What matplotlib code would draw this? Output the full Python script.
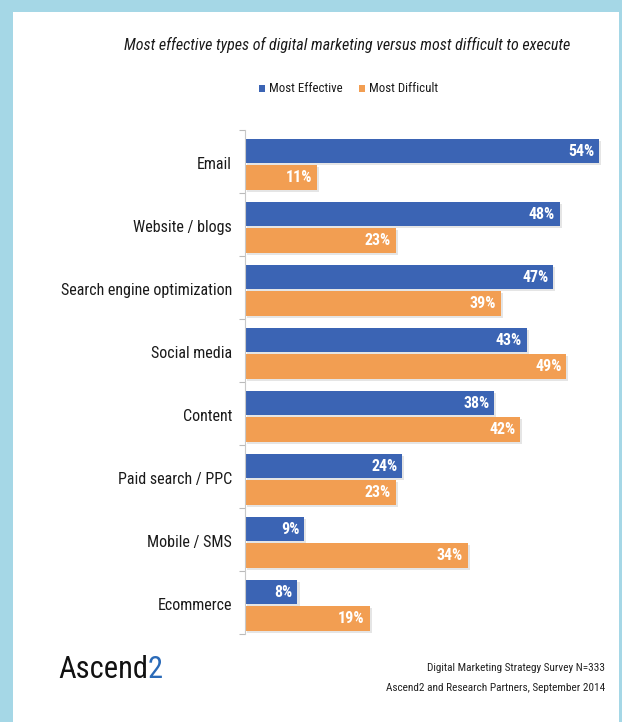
import matplotlib
matplotlib.use("Agg")
import matplotlib.pyplot as plt
import matplotlib.patheffects as pe
from matplotlib import font_manager
from matplotlib.patches import Rectangle
import numpy as np

categories = ["Email", "Website / blogs", "Search engine optimization", "Social media",
              "Content", "Paid search / PPC", "Mobile / SMS", "Ecommerce"]
most_effective = [54, 48, 47, 43, 38, 24, 9, 8]
most_difficult = [11, 23, 39, 49, 42, 23, 34, 19]
series_names = ["Most Effective", "Most Difficult"]

title = "Most effective types of digital marketing versus most difficult to execute"
source_lines = ["Digital Marketing Strategy Survey N=333",
                "Ascend2 and Research Partners, September 2014"]

BLUE = "#3b64b4"
ORANGE = "#f29e52"
FRAME = "#a5d7e6"


def pick(names):
    for n in names:
        try:
            font_manager.findfont(n, fallback_to_default=False)
            return n
        except Exception:
            pass
    return "DejaVu Sans"


narrow = pick(["Liberation Sans Narrow", "Roboto Condensed", "Lato", "Open Sans"])
plt.rcParams["font.family"] = [narrow, "DejaVu Sans"]

W, H = 622, 722
fig = plt.figure(figsize=(W / 100, H / 100), dpi=100, facecolor=FRAME)
fig.patches.append(Rectangle((13 / W, 0), (619 - 13) / W, 1 - 12 / H,
                             transform=fig.transFigure, facecolor="white",
                             edgecolor="none", zorder=-5))


def fx(px):
    return px / W


def fy(py):
    return 1 - py / H


ax = fig.add_axes([fx(245), fy(634), fx(612) - fx(245), fy(130) - fy(634)])
ax.set_facecolor("none")
ax.set_zorder(2)

n = len(categories)
idx = np.arange(n)
h = 0.39
y_eff = idx + 0.335
y_dif = idx + 0.755
shadow = [pe.SimplePatchShadow(offset=(1.5, -1.5), shadow_rgbFace="#9a9a9a", alpha=0.25),
          pe.Normal()]
b1 = ax.barh(y_eff, most_effective, height=h, color=BLUE, label=series_names[0])
b2 = ax.barh(y_dif, most_difficult, height=h, color=ORANGE, label=series_names[1])
for b in list(b1) + list(b2):
    b.set_path_effects(shadow)

for yy, v in zip(y_eff, most_effective):
    ax.text(v - 0.7, yy, f"{v}%", color="white", fontweight="bold",
            ha="right", va="center", fontsize=11.5)
for yy, v in zip(y_dif, most_difficult):
    ax.text(v - 0.7, yy, f"{v}%", color="white", fontweight="bold",
            ha="right", va="center", fontsize=11.5)

ax.set_xlim(0, 56)
ax.set_ylim(n, 0)
ax.set_xticks([])
ax.set_yticks(np.arange(n + 1))
ax.set_yticklabels([])
ax.tick_params(axis="y", length=4, width=0.8, color="#bbbbbb")
for s in ["top", "right", "bottom"]:
    ax.spines[s].set_visible(False)
ax.spines["left"].set_color("#c8c8c8")
ax.spines["left"].set_linewidth(0.8)

for i, c in enumerate(categories):
    ax.text(-2.0, i + 0.54, c, ha="right", va="center", fontsize=11.5,
            color="#1a1a1a")

fig.text(fx(347), fy(45), title, ha="center", va="center", fontsize=11.5,
         style="italic", color="#1a1a1a")

# legend
fig.patches.append(Rectangle((fx(259), fy(92)), fx(6), 7 / H, transform=fig.transFigure,
                             facecolor=BLUE, edgecolor="none"))
fig.text(fx(269), fy(88), series_names[0], ha="left", va="center", fontsize=9.3,
         color="#1a1a1a")
fig.patches.append(Rectangle((fx(359), fy(92)), fx(6), 7 / H, transform=fig.transFigure,
                             facecolor=ORANGE, edgecolor="none"))
fig.text(fx(369), fy(88), series_names[1], ha="left", va="center", fontsize=9.3,
         color="#1a1a1a")

# logo
logo = fig.text(fx(58), fy(669), "Ascend", ha="left", va="center", fontsize=22,
                color="#111111")
fig.canvas.draw()
bb = logo.get_window_extent()
fig.text(bb.x1 / W, fy(669), "2", ha="left", va="center", fontsize=22, color="#2a6ab8")

fig.text(fx(605), fy(668), source_lines[0], ha="right", va="center", fontsize=8.1,
         color="#222222")
fig.text(fx(605), fy(688), source_lines[1], ha="right", va="center", fontsize=8.1,
         color="#222222")

fig.savefig("out.png", dpi=100, facecolor=FRAME)
